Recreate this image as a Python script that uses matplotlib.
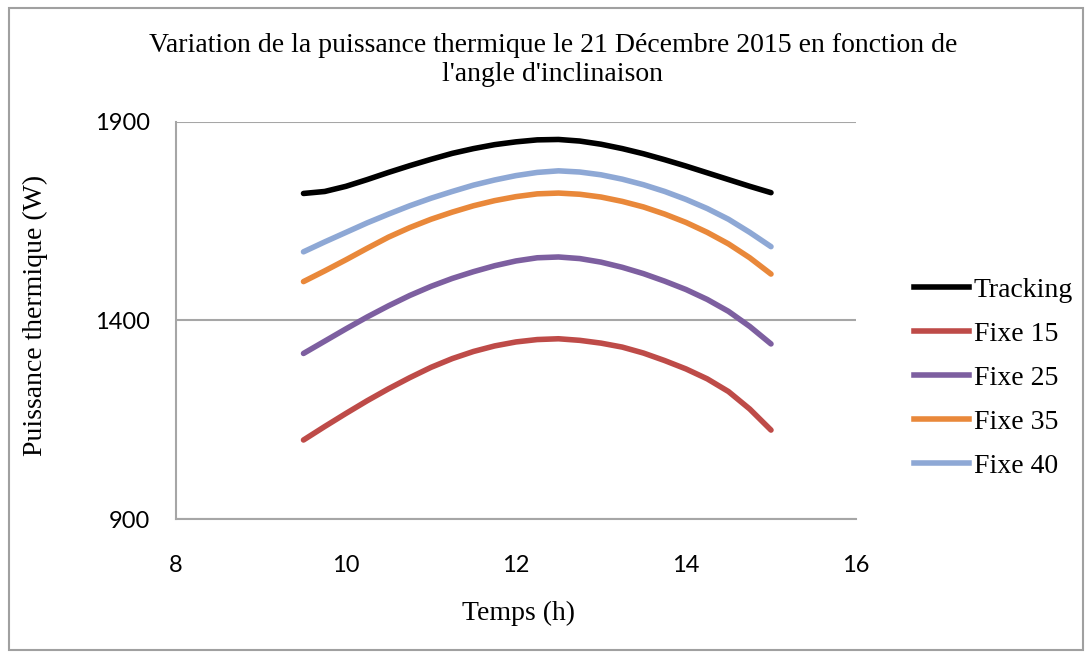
import matplotlib
matplotlib.use('Agg')
import matplotlib.pyplot as plt
from matplotlib.patches import Rectangle
from matplotlib.lines import Line2D

# heure solaire (h)
temps = [9.5, 9.75, 10.0, 10.25, 10.5, 10.75, 11.0, 11.25, 11.5, 11.75, 12.0, 12.25,
         12.5, 12.75, 13.0, 13.25, 13.5, 13.75, 14.0, 14.25, 14.5, 14.75, 15.0]

tracking = [1720, 1725, 1738, 1755, 1773, 1790, 1806, 1821, 1833, 1843, 1850, 1855,
            1856, 1852, 1844, 1833, 1820, 1805, 1789, 1772, 1755, 1738, 1722]
fixe15 = [1099, 1133, 1166, 1198, 1228, 1256, 1282, 1304, 1322, 1336, 1346, 1352,
          1354, 1350, 1343, 1333, 1318, 1299, 1278, 1253, 1221, 1177, 1124]
fixe25 = [1317, 1348, 1379, 1409, 1437, 1463, 1486, 1506, 1523, 1538, 1550, 1558,
          1560, 1556, 1547, 1534, 1518, 1499, 1478, 1453, 1423, 1385, 1341]
fixe35 = [1498, 1525, 1553, 1582, 1610, 1634, 1655, 1673, 1689, 1702, 1712, 1719,
          1721, 1718, 1711, 1700, 1686, 1668, 1647, 1622, 1593, 1558, 1517]
fixe40 = [1573, 1598, 1622, 1646, 1668, 1689, 1708, 1725, 1741, 1754, 1765, 1773,
          1777, 1774, 1767, 1756, 1742, 1725, 1705, 1682, 1655, 1622, 1586]

series = [('Tracking', tracking, '#000000'),
          ('Fixe 15', fixe15, '#BE4B48'),
          ('Fixe 25', fixe25, '#7D5FA0'),
          ('Fixe 35', fixe35, '#E9883A'),
          ('Fixe 40', fixe40, '#8EA8D5')]

serif = ['Liberation Serif', 'DejaVu Serif']
W, H = 1091, 658

fig = plt.figure(figsize=(W / 100, H / 100), dpi=100)
fig.patches.append(Rectangle((9 / W, 1 - 650 / H), (1083 - 9) / W, (650 - 8) / H,
                             transform=fig.transFigure, fill=False,
                             edgecolor='#A0A0A0', linewidth=1.5))

ax = fig.add_axes([176 / W, 1 - 519 / H, (856 - 176) / W, (519 - 122) / H])

for name, vals, col in series:
    ax.plot(temps, vals, color=col, linewidth=4, solid_capstyle='round',
            solid_joinstyle='round', label=name)

ax.set_xlim(8, 16)
ax.set_ylim(900, 1900)
ax.set_xticks([8, 10, 12, 14, 16])
ax.set_yticks([900, 1400, 1900])
ax.grid(axis='y', color='#A6A6A6', linewidth=1.5)
ax.set_axisbelow(True)
for s in ['top', 'right']:
    ax.spines[s].set_visible(False)
for s in ['left', 'bottom']:
    ax.spines[s].set_color('#A6A6A6')
    ax.spines[s].set_linewidth(1.5)
ax.tick_params(axis='both', length=0, labelsize=17)
ax.tick_params(axis='y', pad=19)
ax.tick_params(axis='x', pad=26)
for lab in ax.get_xticklabels() + ax.get_yticklabels():
    lab.set_family('Lato')

fig.text(553 / W, 1 - 60 / H,
         "Variation de la puissance thermique le 21 Décembre 2015 en fonction de\nl'angle d'inclinaison",
         ha='center', va='center', fontsize=20, family=serif, linespacing=1.25)
fig.text(35 / W, 1 - 315 / H, 'Puissance thermique (W)', rotation=90,
         ha='center', va='center', fontsize=20, family=serif)
fig.text(518 / W, 1 - 613 / H, 'Temps (h)', ha='center', va='center',
         fontsize=20, family=serif)

handles = [Line2D([], [], color=col, linewidth=4) for _, _, col in series]
labels = [name for name, _, _ in series]
fig.legend(handles, labels, loc='center left', bbox_to_anchor=(900 / W, 1 - 378 / H),
           frameon=False, borderpad=0, handlelength=2.0, handletextpad=0.15,
           labelspacing=0.67, prop={'family': serif, 'size': 20})

fig.savefig('out.png', dpi=100)
